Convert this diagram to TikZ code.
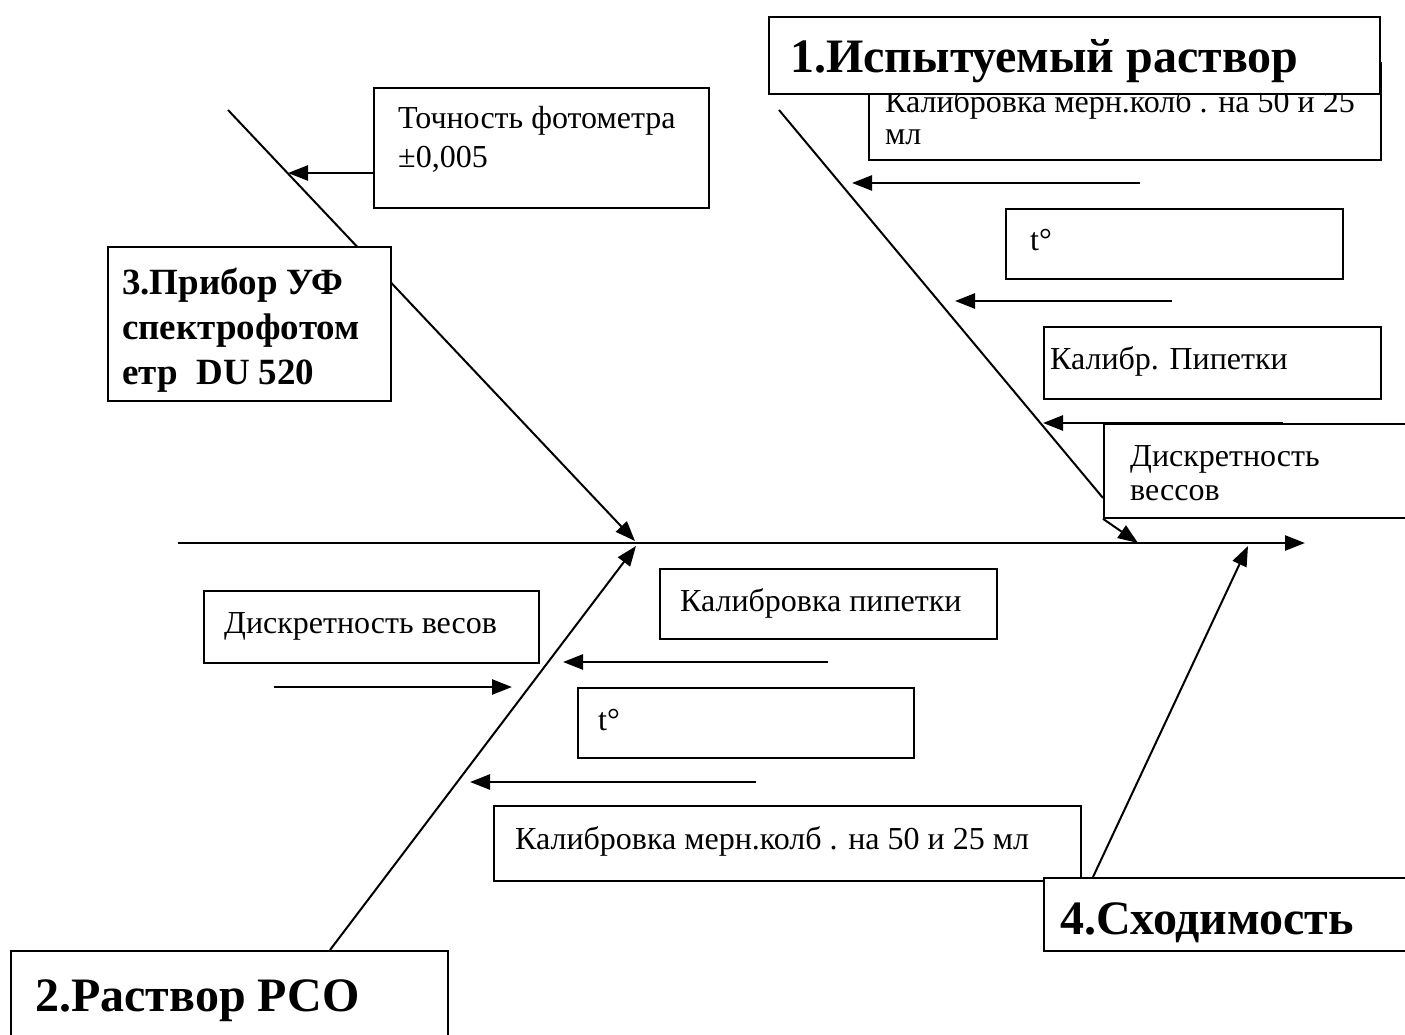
\documentclass[tikz,border=0pt]{standalone}
\usepackage{fontspec}
\setmainfont{Liberation Serif}
\usetikzlibrary{arrows.meta}
\begin{document}
\begin{tikzpicture}[x=1pt,y=-1pt,
  box/.style={draw, line width=1.8pt, fill=white, rectangle, inner sep=0pt, anchor=north west},
  bodytxt/.style={anchor=base west, inner sep=0pt, font=\fontsize{32}{37}\selectfont},
  bigtxt/.style={anchor=base west, inner sep=0pt, font=\fontsize{48}{55}\selectfont\bfseries},
  midtxt/.style={anchor=base west, inner sep=0pt, font=\fontsize{37}{45}\selectfont\bfseries},
  bone/.style={line width=2pt},
  arr/.style={line width=2.6pt, -{Triangle[length=20pt,width=15pt]}},
  barr/.style={line width=2pt, -{Triangle[length=20pt,width=15pt]}}]
\useasboundingbox (0,0) rectangle (1405,1035);
\clip (0,0) rectangle (1405,1035);
\fill[white] (0,0) rectangle (1405,1035);

% coordinates
\coordinate (sp0) at (178,543);
\coordinate (sp1) at (1305,543);
\coordinate (j3) at (635,541);
\coordinate (j2) at (636,546);
\coordinate (b3s) at (228,110);
\coordinate (b2s) at (330,950);
\coordinate (b1s) at (779,110);
\coordinate (b1e) at (1103,498);
\coordinate (j1) at (1138,543);
\coordinate (b4s) at (1093,877);
\coordinate (j4) at (1248,546);

% spine and bones
\draw[arr] (sp0) -- (sp1);
\draw[barr] (b3s) -- (j3);
\draw[barr] (b2s) -- (j2);
\draw[bone] (b1s) -- (b1e);
\draw[barr] (b4s) -- (j4);

% small arrows, upper right
\coordinate (a1s) at (1140,183); \coordinate (a1e) at (852,183);
\coordinate (a2s) at (1172,301); \coordinate (a2e) at (955,301);
\coordinate (a3s) at (1283,423); \coordinate (a3e) at (1043,423);
\draw[arr] (a1s) -- (a1e);
\draw[arr] (a2s) -- (a2e);
\draw[arr] (a3s) -- (a3e);
% upper left
\coordinate (a4e) at (288,173);
% lower
\coordinate (a5s) at (828,662); \coordinate (a5e) at (563,662);
\coordinate (a6s) at (756,782); \coordinate (a6e) at (470,782);
\coordinate (a7s) at (274,687); \coordinate (a7e) at (512,687);
\draw[arr] (a5s) -- (a5e);
\draw[arr] (a6s) -- (a6e);
\draw[arr] (a7s) -- (a7e);

% upper left boxes
\node[box, minimum width=335, minimum height=120] (tochn) at (373,87) {};
\draw[arr] (tochn.west |- a4e) -- (a4e);
\node[bodytxt] (tochnT1) at (398,129) {Точность фотометра};
\node[bodytxt] (tochnT2) at (398,168) {±0,005};

\node[box, minimum width=283, minimum height=154] (pribor) at (107,246) {};
\node[midtxt] (priborT1) at (122,294) {3.Прибор УФ};
\node[midtxt] (priborT2) at (122,339) {спектрофотом};
\node[midtxt] (priborT3) at (122,384) {етр\ \ DU 520};

% upper right boxes
\node[box, minimum width=512, minimum height=97] (kalkolbU) at (868,62) {};
\node[bodytxt] (kalkolbUT1) at (885,113) {Калибровка мерн.колб . на 50 и 25};
\node[bodytxt] (kalkolbUT2) at (885,145) {мл};

\node[box, minimum width=611, minimum height=77] (isp) at (768,16) {};
\node[bigtxt] (ispT) at (790,73) {1.Испытуемый раствор};

\node[box, minimum width=337, minimum height=70] (tU) at (1005,208) {};
\node[bodytxt] (tUT) at (1030,250) {t°};

\node[box, minimum width=337, minimum height=72] (pipU) at (1043,326) {};
\node[bodytxt] (pipUT) at (1050,369) {Калибр. Пипетки};

\node[box, minimum width=320, minimum height=94] (disU) at (1103,423) {};
\node[bodytxt] (disUT1) at (1130,466) {Дискретность};
\node[bodytxt] (disUT2) at (1130,500) {вессов};
\draw[barr] (disU.south west) -- (j1);

% lower boxes
\node[box, minimum width=335, minimum height=72] (disL) at (203,590) {};
\node[bodytxt] (disLT) at (224,633) {Дискретность весов};

\node[box, minimum width=337, minimum height=70] (pipL) at (659,568) {};
\node[bodytxt] (pipLT) at (680,611) {Калибровка пипетки};

\node[box, minimum width=336, minimum height=70] (tL) at (577,687) {};
\node[bodytxt] (tLT) at (598,730) {t°};

\node[box, minimum width=587, minimum height=75] (kalkolbL) at (493,805) {};
\node[bodytxt] (kalkolbLT) at (515,849) {Калибровка мерн.колб . на 50 и 25 мл};

\node[box, minimum width=380, minimum height=73] (shod) at (1043,877) {};
\node[bigtxt] (shodT) at (1060,934) {4.Сходимость};

\node[box, minimum width=437, minimum height=110] (rso) at (10,950) {};
\node[bigtxt] (rsoT) at (35,1011) {2.Раствор РСО};
\end{tikzpicture}
\end{document}
